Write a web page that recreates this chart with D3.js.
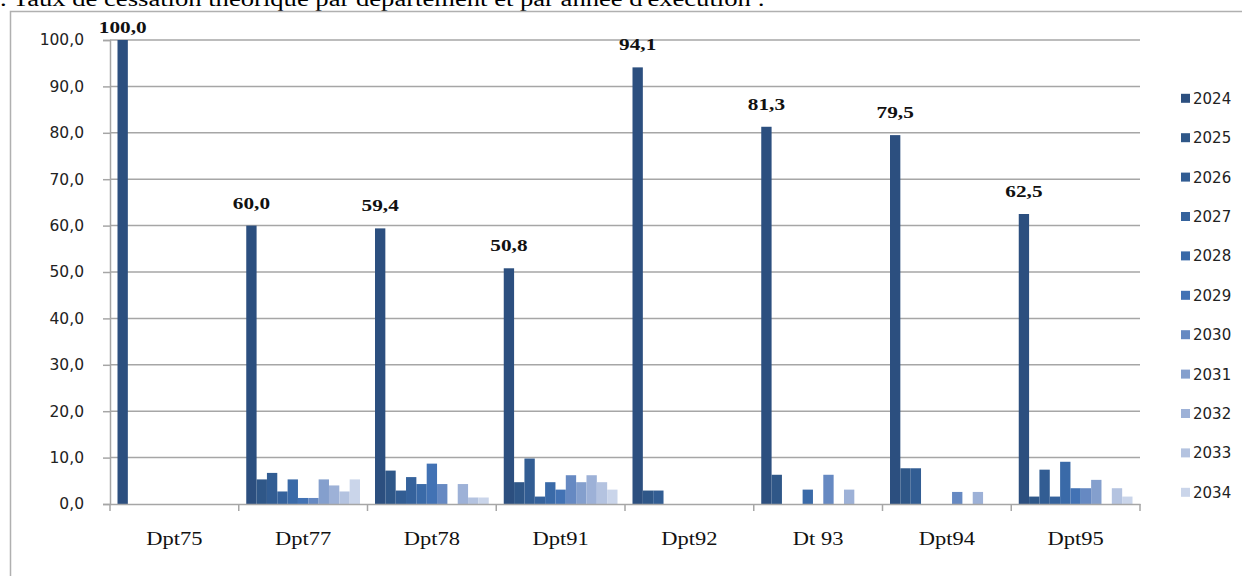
<!DOCTYPE html>
<html>
<head>
<meta charset="utf-8">
<title>Taux de cessation</title>
<script src="https://cdnjs.cloudflare.com/ajax/libs/d3/7.8.5/d3.min.js"></script>
<style>
  body { margin: 0; background: #fff; }
</style>
</head>
<body>
<script>
var categories = ["Dpt75", "Dpt77", "Dpt78", "Dpt91", "Dpt92", "Dt 93", "Dpt94", "Dpt95"];
var years = ["2024", "2025", "2026", "2027", "2028", "2029", "2030", "2031", "2032", "2033", "2034"];

// one array per year, in the order of categories
var v2024 = [100.0, 60.0, 59.4, 50.8, 94.1, 81.3, 79.5, 62.5];
var v2025 = [0, 5.3, 7.2, 4.7, 2.9, 6.3, 7.7, 1.6];
var v2026 = [0, 6.7, 2.9, 9.8, 2.9, 0, 7.7, 7.4];
var v2027 = [0, 2.7, 5.8, 1.6, 0, 0, 0, 1.6];
var v2028 = [0, 5.3, 4.3, 4.7, 0, 3.1, 0, 9.1];
var v2029 = [0, 1.3, 8.7, 3.1, 0, 0, 0, 3.4];
var v2030 = [0, 1.3, 4.3, 6.2, 0, 6.3, 2.6, 3.4];
var v2031 = [0, 5.3, 0, 4.7, 0, 0, 0, 5.2];
var v2032 = [0, 4.0, 4.3, 6.2, 0, 3.1, 2.6, 0];
var v2033 = [0, 2.7, 1.4, 4.7, 0, 0, 0, 3.4];
var v2034 = [0, 5.3, 1.4, 3.1, 0, 0, 0, 1.6];
var series = [v2024, v2025, v2026, v2027, v2028, v2029, v2030, v2031, v2032, v2033, v2034];

var yTicks = [0, 10, 20, 30, 40, 50, 60, 70, 80, 90, 100];
var colors = ["#2c4f7f", "#2f5788", "#325d93", "#35629c", "#3a6aa8", "#4272b4",
              "#6689c2", "#849fcd", "#9db1d7", "#b4c3e0", "#cad5ea"];

var W = 1242, H = 576;
var plotLeft = 110, plotRight = 1140, plotTop = 40, plotBottom = 504;
var grey = "#a6a6a6";
var sx = 1.25; // the picture is stretched sideways: serif text is widened to match
var fmt = function(d) { return d.toFixed(1).replace(".", ","); };

var svg = d3.select("body").append("svg")
    .attr("width", W)
    .attr("height", H);

// title, cut at the top of the picture
svg.append("text")
    .attr("transform", "translate(0,6) scale(" + sx + ",1)")
    .style("font-family", "'Liberation Serif', 'Times New Roman', serif")
    .style("font-size", "21.3px")
    .text(". Taux de cessation théorique par département et par année d'exécution :");

// chart frame
svg.append("rect")
    .attr("x", 10.5).attr("y", 11.5)
    .attr("width", W).attr("height", H)
    .attr("fill", "none")
    .attr("stroke", "#b0b0b0")
    .attr("stroke-width", 1.5);

var y = d3.scaleLinear().domain([0, 100]).range([plotBottom, plotTop]);
var x0 = d3.scaleBand().domain(categories).range([plotLeft, plotRight]);
var x1 = d3.scaleBand().domain(years).range([7.5, x0.bandwidth() - 7.5]);

// gridlines
svg.append("g").selectAll("line")
    .data(yTicks.slice(1))
    .enter().append("line")
    .attr("x1", plotLeft).attr("x2", plotRight)
    .attr("y1", function(d) { return y(d); })
    .attr("y2", function(d) { return y(d); })
    .attr("stroke", grey)
    .attr("stroke-width", 1.5);

// y axis
var yAxis = svg.append("g")
    .attr("transform", "translate(" + plotLeft + ",0)")
    .call(d3.axisLeft(y).tickValues(yTicks).tickFormat(fmt).tickSize(7).tickPadding(19));
yAxis.selectAll("path, line").attr("stroke", grey).attr("stroke-width", 1.5);
yAxis.selectAll("text")
    .style("font-family", "'DejaVu Sans', Verdana, sans-serif")
    .style("font-size", "15.5px")
    .attr("fill", "#222");

// bars
var groups = svg.append("g").selectAll("g")
    .data(categories)
    .enter().append("g")
    .attr("transform", function(d) { return "translate(" + x0(d) + ",0)"; });

groups.selectAll("rect")
    .data(function(c, ci) { return series.map(function(s, si) { return { year: years[si], v: s[ci], i: si }; }); })
    .enter().append("rect")
    .attr("x", function(d) { return x1(d.year); })
    .attr("width", x1.bandwidth())
    .attr("y", function(d) { return y(d.v); })
    .attr("height", function(d) { return plotBottom - y(d.v); })
    .attr("fill", function(d) { return colors[d.i]; });

// x axis
var xAxis = svg.append("g")
    .attr("transform", "translate(0," + plotBottom + ")")
    .call(d3.axisBottom(x0).tickSize(0).tickFormat(""));
xAxis.select("path").attr("stroke", grey).attr("stroke-width", 1.5);
xAxis.selectAll(".tick").remove();

svg.append("g").selectAll("line")
    .data(categories.concat(["end"]))
    .enter().append("line")
    .attr("x1", function(d, i) { return plotLeft + i * x0.bandwidth(); })
    .attr("x2", function(d, i) { return plotLeft + i * x0.bandwidth(); })
    .attr("y1", plotBottom).attr("y2", plotBottom + 7)
    .attr("stroke", grey)
    .attr("stroke-width", 1.5);

svg.append("g").selectAll("text")
    .data(categories)
    .enter().append("text")
    .attr("transform", function(d) { return "translate(" + (x0(d) + x0.bandwidth() / 2) + ",545) scale(" + sx + ",1)"; })
    .attr("text-anchor", "middle")
    .style("font-family", "'Liberation Serif', 'Times New Roman', serif")
    .style("font-size", "18px")
    .attr("fill", "#111")
    .text(function(d) { return d; });

// data labels on the 2024 series (kept inside the frame for the tallest bar)
svg.append("g").selectAll("text")
    .data(categories)
    .enter().append("text")
    .attr("transform", function(d, i) {
        var ty = Math.max(y(v2024[i]) - 17, 33);
        return "translate(" + (x0(d) + x1("2024") + x1.bandwidth() / 2) + "," + ty + ") scale(" + sx + ",1)";
    })
    .attr("text-anchor", "middle")
    .style("font-family", "'Liberation Serif', 'Times New Roman', serif")
    .style("font-size", "17px")
    .style("font-weight", "bold")
    .attr("fill", "#111")
    .text(function(d, i) { return fmt(v2024[i]); });

// legend
var legend = svg.append("g").selectAll("g")
    .data(years)
    .enter().append("g")
    .attr("transform", function(d, i) { return "translate(1181," + (98.3 + i * 39.4) + ")"; });

legend.append("rect")
    .attr("x", 0).attr("y", -4.5)
    .attr("width", 9).attr("height", 9)
    .attr("fill", function(d, i) { return colors[i]; });

legend.append("text")
    .attr("x", 12).attr("y", 5.5)
    .style("font-family", "'DejaVu Sans', Verdana, sans-serif")
    .style("font-size", "15px")
    .attr("fill", "#222")
    .text(function(d) { return d; });
</script>
</body>
</html>
